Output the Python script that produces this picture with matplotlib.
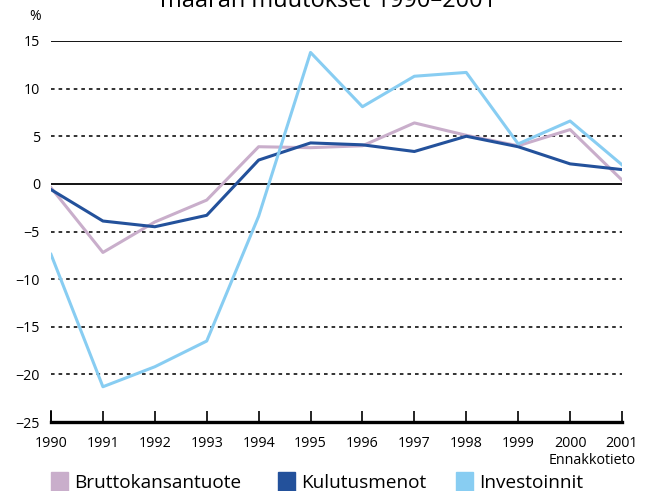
import matplotlib.pyplot as plt

# Data (annual change, %)
years = [1990, 1991, 1992, 1993, 1994, 1995, 1996, 1997, 1998, 1999, 2000, 2001]
bkt = [-0.4, -7.2, -4.0, -1.7, 3.9, 3.8, 4.0, 6.4, 5.1, 4.0, 5.7, 0.4]
kulutus = [-0.6, -3.9, -4.5, -3.3, 2.5, 4.3, 4.1, 3.4, 5.0, 3.9, 2.1, 1.5]
investoinnit = [-7.4, -21.3, -19.2, -16.5, -3.4, 13.8, 8.1, 11.3, 11.7, 4.2, 6.6, 2.0]
yticks = [15, 10, 5, 0, -5, -10, -15, -20, -25]

c_bkt = "#c9aecb"
c_kul = "#23519b"
c_inv = "#88cdf2"

plt.rcParams['font.family'] = ['Open Sans', 'DejaVu Sans']

fig = plt.figure(figsize=(6.52, 4.91), dpi=100)
ax = fig.add_axes([51 / 652, 1 - 422 / 491, 571 / 652, 381 / 491])

# grid lines: solid at 15 and 0, dotted elsewhere
for y in yticks:
    if y in (15, 0):
        ax.axhline(y, color="black", lw=1.3, zorder=1)
    elif y != -25:
        ax.axhline(y, color="#222222", lw=1.3, ls=(0, (2, 2.2)), zorder=1)

ax.plot(years, bkt, color=c_bkt, lw=2.2, zorder=3)
ax.plot(years, kulutus, color=c_kul, lw=2.2, zorder=4)
ax.plot(years, investoinnit, color=c_inv, lw=2.2, zorder=5)

ax.set_xlim(1990, 2001)
ax.set_ylim(-25, 15)
ax.set_xticks(years)
ax.set_xticklabels([str(y) for y in years])
ax.set_yticks(yticks)
ax.set_yticklabels(["\u2212" + str(-y) if y < 0 else str(y) for y in yticks])

for s in ["top", "right", "left"]:
    ax.spines[s].set_visible(False)
ax.spines["bottom"].set_linewidth(2.4)
ax.tick_params(axis="x", direction="in", length=8, width=1.2, pad=10, labelsize=10.3)
ax.tick_params(axis="y", length=0, pad=8, labelsize=10.3)
ax.axvline(1990, ymin=0, ymax=11 / 381, color="black", lw=1.2, clip_on=False)

fig.text(35 / 652, 1 - 17 / 491, "%", fontsize=10, ha="center", va="center")
fig.text(636 / 652, 1 - 461 / 491, "Ennakkotieto", fontsize=10.3, ha="right", va="center")
fig.text(328 / 652, 1 - 7 / 491, "määrän muutokset 1990\u20132001", fontsize=17,
         ha="center", va="baseline")

# legend row
items = [("Bruttokansantuote", c_bkt, 51), ("Kulutusmenot", c_kul, 278), ("Investoinnit", c_inv, 456)]
for label, col, x0 in items:
    fig.patches.append(plt.Rectangle((x0 / 652, 0), 17 / 652, 19 / 491,
                                     transform=fig.transFigure, color=col, figure=fig))
    fig.text((x0 + 23) / 652, 1 - 488 / 491, label, fontsize=13.7, ha="left", va="baseline")

fig.savefig("out.png", dpi=100)
